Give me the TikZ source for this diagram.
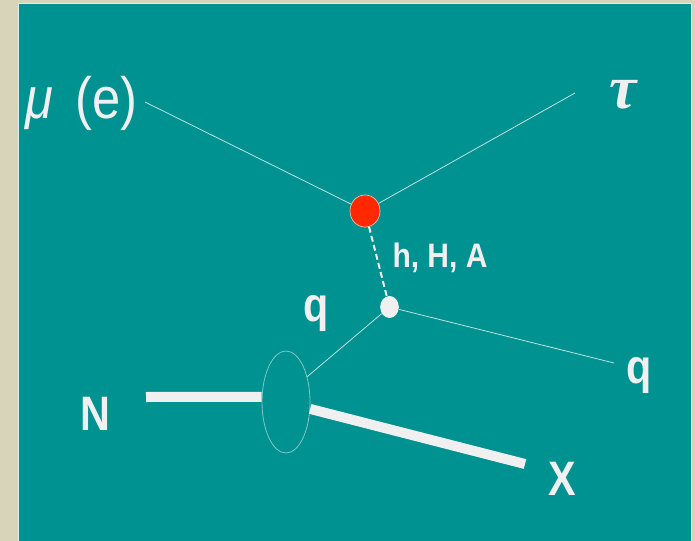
\documentclass[tikz,border=0pt]{standalone}
\usepackage{fontspec}
\usetikzlibrary{shapes.geometric}
\setmainfont{Liberation Sans}
\newfontfamily\greekserif{Liberation Serif}
\definecolor{beige}{HTML}{D8D4BA}
\definecolor{tealbg}{HTML}{009191}
\definecolor{txtwhite}{HTML}{F0F0F0}
\definecolor{thinline}{HTML}{BDE2E2}
\definecolor{blobline}{HTML}{80C8C8}
\definecolor{dotred}{HTML}{FF2800}
\begin{document}
\begin{tikzpicture}[x=0.75pt,y=-0.75pt,
  lbl/.style={inner sep=0pt, text=txtwhite, font=\bfseries\fontsize{31}{31}\selectfont},
  smalllbl/.style={inner sep=0pt, text=txtwhite, font=\bfseries\fontsize{22.5}{22.5}\selectfont},
  particle/.style={draw=thinline, line width=0.6pt},
  beam/.style={draw=txtwhite, line width=7.5pt, line cap=butt},
  higgs/.style={draw=txtwhite, line width=1.5pt, dash pattern=on 4.5pt off 2.5pt}]
\useasboundingbox (0,0) rectangle (695,541);
\fill[beige] (0,0) rectangle (695,541);
\fill[tealbg] (18,3) rectangle (692,541);
\draw[white!85!tealbg, line width=0.8pt] (18.5,541) -- (18.5,3.5) -- (691.5,3.5) -- (691.5,541);

% vertices
\node[ellipse, draw=white!70!dotred, line width=0.5pt, fill=dotred, minimum width=22.5pt, minimum height=24pt, inner sep=0pt] (redv) at (365,211) {};
\node[ellipse, fill=txtwhite, minimum width=14pt, minimum height=16.5pt, inner sep=0pt] (whitev) at (389.5,307) {};
\node[ellipse, draw=blobline, line width=0.6pt, minimum width=36pt, minimum height=76.5pt, inner sep=0pt] (blob) at (286,402) {};

% free ends
\coordinate (muend) at (145,102);
\coordinate (tauend) at (575,93);
\coordinate (qend) at (614,363);
\coordinate (nend) at (146,397);
\coordinate (xend) at (525,464);

% connectors
\draw[particle] (muend) -- (redv);
\draw[particle] (tauend) -- (redv);
\draw[higgs] (redv) -- (whitev);
\draw[particle] (whitev) -- (qend);
\draw[particle] (whitev) -- (blob.50);
\draw[beam] (nend) -- (blob.168);
\draw[beam] (blob.-16) -- (xend);

% labels
\node[inner sep=0pt, text=txtwhite, anchor=west, font=\fontsize{38}{38}\selectfont] (mulabel) at (25,103) {\scalebox{1}[1.15]{\itshape μ\upshape\hspace{0.45em}(e)}};
\node[inner sep=0pt, text=txtwhite, font=\greekserif\bfseries\itshape\fontsize{46}{46}\selectfont] (taulabel) at (623,95) {τ};
\node[smalllbl] (hlabel) at (440,258) {\scalebox{1}[1.13]{h, H, A}};
\node[lbl] (qleft) at (316,313) {\scalebox{1}[1.17]{q}};
\node[lbl] (qright) at (639,375) {\scalebox{1}[1.17]{q}};
\node[lbl] (nlabel) at (95,414) {\scalebox{1}[1.17]{N}};
\node[lbl] (xlabel) at (562,479) {\scalebox{1}[1.17]{X}};
\end{tikzpicture}
\end{document}
